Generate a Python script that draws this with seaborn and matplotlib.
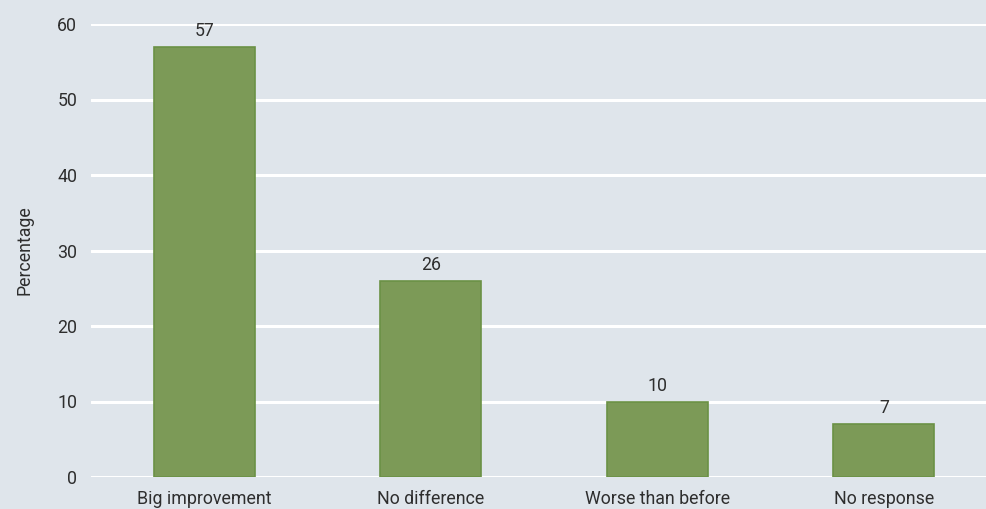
import matplotlib
matplotlib.use("Agg")
import matplotlib.pyplot as plt
import seaborn as sns
import pandas as pd

categories = ["Big improvement", "No difference", "Worse than before", "No response"]
percentages = [57, 26, 10, 7]
y_ticks = [0, 10, 20, 30, 40, 50, 60]

bg = "#dfe5eb"
bar_color = "#7c9a57"
edge_color = "#6b9145"
text_color = "#2e2e2e"
fs = 12.8

sns.set_theme(style="white")
plt.rcParams["font.family"] = ["Roboto", "DejaVu Sans"]

df = pd.DataFrame({"category": categories, "pct": percentages})

fig = plt.figure(figsize=(9.87, 5.09), dpi=100)
fig.patch.set_facecolor(bg)
ax = fig.add_axes([91 / 987, (509 - 477) / 509, 1 - 91 / 987, (477 - 24) / 509])
ax.set_facecolor(bg)

sns.barplot(data=df, x="category", y="pct", ax=ax, color=bar_color,
            width=0.446, edgecolor=edge_color, linewidth=1.2, saturation=1,
            zorder=3)

ax.set_ylim(0, 60)
ax.set_xlim(-0.5, 3.455)
ax.set_yticks(y_ticks)
ax.grid(axis="y", color="white", linewidth=2.2, zorder=0)
ax.set_axisbelow(True)
for s in ax.spines.values():
    s.set_visible(False)

ax.tick_params(axis="both", length=0, labelsize=fs, colors=text_color)
ax.tick_params(axis="y", pad=10)
ax.tick_params(axis="x", pad=9)
ax.set_xlabel("")
ax.set_ylabel("Percentage", fontsize=fs, color=text_color, labelpad=17)

for i, v in enumerate(percentages):
    ax.text(i, v + 0.9, str(v), ha="center", va="bottom", fontsize=fs,
            color=text_color)

fig.savefig("out.png", dpi=100, facecolor=bg)
